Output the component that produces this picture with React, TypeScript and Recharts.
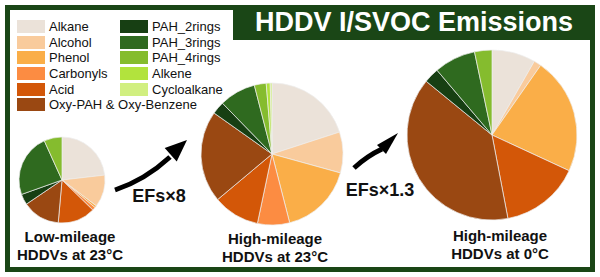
import { PieChart, Pie, Cell } from "recharts";

document.body.style.margin = "0";

const categories = [
  "Alkane", "Alcohol", "Phenol", "Carbonyls", "Acid", "Oxy-PAH & Oxy-Benzene",
  "PAH_2rings", "PAH_3rings", "PAH_4rings", "Alkene", "Cycloalkane",
];
const colors = [
  "#ebe2d9", "#f9cb9c", "#faae48", "#fc8c42", "#d35708", "#9a4812",
  "#173f13", "#2f6a1f", "#85bc2e", "#b2e33d", "#d1ef80",
];

// share of emissions (%), clockwise from 12 o'clock
const lowMileage23 = [23, 12, 0.8, 1.2, 14, 14, 4, 23.5, 6.7, 0, 0];
const highMileage23 = [20, 9.3, 16.7, 7.3, 10.6, 20.9, 2.9, 8.3, 2.7, 0.9, 0.4];
const highMileage0 = [8.3, 1.4, 22.2, 0, 15.1, 38.9, 2.9, 7.9, 3.3, 0, 0];

const legendCol1 = [0, 1, 2, 3, 4, 5];
const legendCol2 = [6, 7, 8, 9, 10];

const toRows = (vals: number[]) =>
  vals.map((v, i) => ({ name: categories[i], value: v, fill: colors[i] })).filter((d) => d.value > 0);

const GREEN = "#1a4616";
const FONT = "Arial, 'Liberation Sans', sans-serif";

const pies = [
  { data: lowMileage23, cx: 62, cy: 180, r: 43, label: ["Low-mileage", "HDDVs at 23°C"], lx: 70, ly: 237 },
  { data: highMileage23, cx: 272, cy: 154, r: 71, label: ["High-mileage", "HDDVs at 23°C"], lx: 275, ly: 239 },
  { data: highMileage0, cx: 492, cy: 135, r: 85, label: ["High-mileage", "HDDVs at 0°C"], lx: 500, ly: 236 },
];

function LegendCol({ idx, left }: { idx: number[]; left: number }) {
  return (
    <div style={{ position: "absolute", left, top: 19 }}>
      {idx.map((i) => (
        <div key={i} style={{ display: "flex", alignItems: "center", height: 15.6 }}>
          <div style={{ width: 28, height: 13, background: colors[i], marginRight: 4 }} />
          <span style={{ fontSize: 13, color: "#111", whiteSpace: "nowrap" }}>{categories[i]}</span>
        </div>
      ))}
    </div>
  );
}

export default function App() {
  return (
    <div style={{ position: "relative", width: 600, height: 277, background: "#fff", fontFamily: FONT, overflow: "hidden" }}>
      <div style={{ position: "absolute", left: 5, top: 5, width: 590, height: 267, border: `5px solid ${GREEN}`, boxSizing: "border-box" }} />
      <div style={{
        position: "absolute", left: 233, top: 5, width: 362, height: 35, background: GREEN, color: "#fff",
        fontWeight: 700, fontSize: 27, display: "flex", alignItems: "center", justifyContent: "center",
      }}>
        HDDV I/SVOC Emissions
      </div>
      <LegendCol idx={legendCol1} left={17} />
      <LegendCol idx={legendCol2} left={120} />

      <div style={{ position: "absolute", left: 0, top: 0 }}>
        <PieChart width={600} height={277} margin={{ top: 0, right: 0, bottom: 0, left: 0 }}>
          {pies.map((p, k) => (
            <Pie
              key={k}
              data={toRows(p.data)}
              dataKey="value"
              nameKey="name"
              cx={p.cx}
              cy={p.cy}
              outerRadius={p.r}
              startAngle={90}
              endAngle={-270}
              stroke="#eeeeee"
              strokeWidth={0.7}
              isAnimationActive={false}
            >
              {toRows(p.data).map((d) => (
                <Cell key={d.name} fill={d.fill} />
              ))}
            </Pie>
          ))}
        </PieChart>
      </div>

      <svg width={600} height={277} style={{ position: "absolute", left: 0, top: 0, pointerEvents: "none" }}>
        <path d="M115,190 Q145,180 170,157" stroke="#000" strokeWidth={5} fill="none" />
        <polygon points="187,140 176.7,161.4 164.7,148" fill="#000" />
        <path d="M354,168 Q367,156 382,149" stroke="#000" strokeWidth={5} fill="none" />
        <polygon points="398,133 386,154 377,145" fill="#000" />
        <text x={159} y={202} textAnchor="middle" fontSize={18} fontWeight={700} fill="#111" fontFamily={FONT}>EFs×8</text>
        <text x={380} y={196} textAnchor="middle" fontSize={18} fontWeight={700} fill="#111" fontFamily={FONT}>EFs×1.3</text>
        {pies.map((p, k) => (
          <g key={k}>
            <text x={p.lx} y={p.ly + 5} textAnchor="middle" fontSize={15} fontWeight={700} fill="#111" fontFamily={FONT}>{p.label[0]}</text>
            <text x={p.lx} y={p.ly + 23} textAnchor="middle" fontSize={15} fontWeight={700} fill="#111" fontFamily={FONT}>{p.label[1]}</text>
          </g>
        ))}
      </svg>
    </div>
  );
}
